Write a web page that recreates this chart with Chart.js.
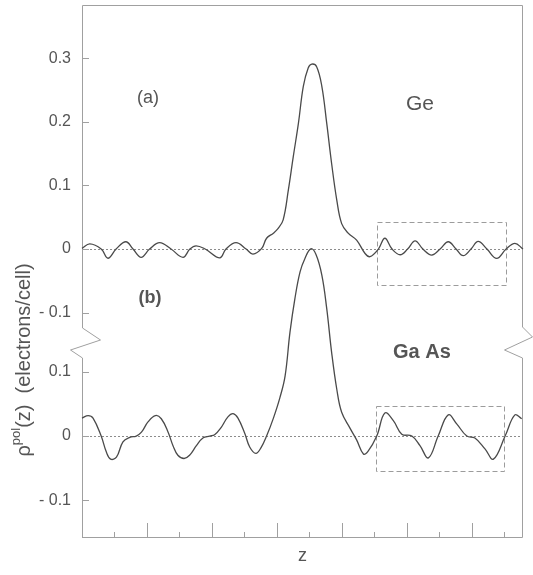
<!DOCTYPE html>
<html><head><meta charset="utf-8">
<script src="https://cdn.jsdelivr.net/npm/chart.js@4.4.0/dist/chart.umd.min.js"></script>
<style>html,body{margin:0;padding:0;background:#fff;} #wrap{width:533px;height:575px;}</style>
</head><body><div id="wrap"><canvas id="c" width="533" height="575"></canvas></div>
<script>
// ---- data (z in interlayer units, rho in electrons/cell) ----
const geZ = [0.00,0.24,0.59,0.80,1.05,1.35,1.57,1.82,2.08,2.39,2.74,3.11,3.32,3.51,3.79,4.24,4.43,4.74,5.05,5.26,5.53,5.68,5.89,6.03,6.19,6.35,6.50,6.66,6.81,6.96,7.07,7.22,7.38,7.53,7.68,7.84,7.99,8.19,8.45,8.71,8.86,9.12,9.32,9.54,9.79,10.02,10.25,10.49,10.76,11.02,11.27,11.51,11.73,11.97,12.19,12.46,12.76,13.05,13.32,13.57];
const geRho = [0.001,0.008,0,-0.0145,0,0.0115,0,-0.013,0,0.010,0,-0.013,0,0.005,0,-0.014,0,0.010,0,-0.008,0.001,0.017,0.025,0.032,0.046,0.093,0.145,0.198,0.256,0.285,0.291,0.287,0.256,0.198,0.135,0.077,0.040,0.025,0.014,-0.007,-0.012,0,0.017,0,-0.009,0,0.013,0,-0.0095,0,0.0115,0,-0.0105,0,0.012,0,-0.0147,0,0.009,0];
const gaasZ = [0.00,0.19,0.34,0.59,0.75,0.88,1.06,1.26,1.47,1.67,1.83,2.03,2.26,2.44,2.65,2.80,2.95,3.14,3.31,3.52,3.72,3.93,4.08,4.29,4.49,4.65,4.80,5.01,5.16,5.35,5.51,5.68,5.89,6.09,6.25,6.40,6.55,6.71,6.86,7.04,7.20,7.38,7.53,7.68,7.84,7.99,8.25,8.45,8.66,8.80,9.07,9.32,9.58,9.84,10.15,10.40,10.66,10.96,11.27,11.53,11.84,12.09,12.40,12.66,13.02,13.32,13.53];
const gaasRho = [0.028,0.032,0.028,0,-0.025,-0.036,-0.033,-0.009,-0.002,0,0.006,0.022,0.032,0.027,0.006,-0.015,-0.030,-0.035,-0.030,-0.015,-0.003,0,0.002,0.014,0.030,0.035,0.028,0.004,-0.017,-0.027,-0.018,0,0.028,0.060,0.094,0.162,0.214,0.256,0.277,0.292,0.283,0.251,0.199,0.131,0.073,0.037,0.012,-0.006,-0.028,-0.024,0,0.036,0.024,0.003,0,-0.015,-0.034,0,0.033,0.019,0,-0.003,-0.020,-0.036,0,0.033,0.027];
const topTicks = [0.3, 0.2, 0.1, 0, -0.1];
const bottomTicks = [0.1, 0, -0.1];
const topRange = [-0.151, 0.384];
const bottomRange = [-0.159, 0.142];
const zRange = [0, 13.57];
const zMajorTicks = [0, 2, 4, 6, 8, 10, 12];
const zMinorTicks = [1, 3, 5, 7, 9, 11, 13];
const boxTopZ = [9.08, 13.05], boxTopRho = [-0.057, 0.0425];
const boxBotZ = [9.04, 12.98], boxBotRho = [-0.055, 0.047];

const FONT = '"Liberation Sans", Arial, sans-serif';
const fmt = v => v === 0 ? '0' : (v < 0 ? '- ' + Math.abs(v).toFixed(1) : v.toFixed(1));
const toPts = (zs, rs) => zs.map((z, i) => ({x: z, y: rs[i]}));

function fixY(s, w) { s.width = w; s.paddingTop = 0; s.paddingBottom = 0; }

const decor = {
  id: 'decor',
  beforeDatasetsDraw(chart) {
    const {ctx, chartArea: a, scales} = chart;
    const X = scales.x, T = scales.yT, B = scales.yB;
    ctx.save();
    // zero lines
    ctx.lineWidth = 1; ctx.strokeStyle = '#8c8c8c'; ctx.setLineDash([2, 2]);
    [T, B].forEach(s => {
      const y = Math.round(s.getPixelForValue(0)) + 0.5;
      ctx.beginPath(); ctx.moveTo(a.left, y); ctx.lineTo(a.right, y); ctx.stroke();
    });
    // dashed boxes
    ctx.strokeStyle = '#9c9c9c'; ctx.setLineDash([5, 3]);
    [[boxTopZ, boxTopRho, T], [boxBotZ, boxBotRho, B]].forEach(([bz, br, s]) => {
      const x1 = X.getPixelForValue(bz[0]), x2 = X.getPixelForValue(bz[1]);
      const y1 = s.getPixelForValue(br[1]), y2 = s.getPixelForValue(br[0]);
      ctx.strokeRect(Math.round(x1) + 0.5, Math.round(y1) + 0.5, Math.round(x2 - x1), Math.round(y2 - y1));
    });
    // frame with break marks
    ctx.setLineDash([]); ctx.strokeStyle = '#a0a0a0';
    const yb = T.bottom, L = a.left + 0.5, R = a.right - 0.5;
    ctx.beginPath();
    ctx.moveTo(L, yb - 17); ctx.lineTo(L, a.top + 0.5); ctx.lineTo(R, a.top + 0.5); ctx.lineTo(R, yb - 18);
    ctx.lineTo(R + 10, yb - 8); ctx.lineTo(R - 18, yb + 5); ctx.lineTo(R, yb + 13);
    ctx.lineTo(R, a.bottom - 0.5); ctx.lineTo(L, a.bottom - 0.5); ctx.lineTo(L, yb + 13);
    ctx.lineTo(L - 12, yb + 5); ctx.lineTo(L + 18, yb - 5); ctx.lineTo(L, yb - 17);
    ctx.stroke();
    // inward y ticks
    [[T, topTicks], [B, bottomTicks]].forEach(([s, tk]) => tk.forEach(v => {
      const y = Math.round(s.getPixelForValue(v)) + 0.5;
      ctx.beginPath(); ctx.moveTo(a.left, y); ctx.lineTo(a.left + 7, y); ctx.stroke();
    }));
    // inward x ticks
    zMajorTicks.forEach(z => { const x = Math.round(X.getPixelForValue(z)) + 0.5;
      ctx.beginPath(); ctx.moveTo(x, a.bottom); ctx.lineTo(x, a.bottom - 15); ctx.stroke(); });
    zMinorTicks.forEach(z => { const x = Math.round(X.getPixelForValue(z)) + 0.5;
      ctx.beginPath(); ctx.moveTo(x, a.bottom); ctx.lineTo(x, a.bottom - 6); ctx.stroke(); });
    ctx.restore();
  },
  afterDatasetsDraw(chart) {
    const {ctx, scales} = chart;
    const X = scales.x, T = scales.yT, B = scales.yB;
    ctx.save();
    ctx.fillStyle = '#555'; ctx.textAlign = 'center'; ctx.textBaseline = 'middle';
    ctx.font = '18px ' + FONT;
    ctx.fillText('(a)', X.getPixelForValue(2.03), T.getPixelForValue(0.238));
    ctx.font = 'bold 18px ' + FONT;
    ctx.fillText('(b)', X.getPixelForValue(2.09), T.getPixelForValue(-0.077));
    ctx.font = '21px ' + FONT;
    ctx.fillText('Ge', X.getPixelForValue(10.4), T.getPixelForValue(0.228));
    ctx.font = 'bold 20px ' + FONT;
    ctx.fillText('Ga As', X.getPixelForValue(10.46), B.getPixelForValue(0.131));
    // y axis title with superscript
    const big = '20px ' + FONT, small = '13px ' + FONT;
    const parts = [['\u03c1', big, 0], ['pol', small, -8], ['(z)  (electrons/cell)', big, 0]];
    let total = 0;
    parts.forEach(p => { ctx.font = p[1]; p.push(ctx.measureText(p[0]).width); total += p[3]; });
    ctx.translate(24, 360); ctx.rotate(-Math.PI / 2);
    ctx.textAlign = 'left'; ctx.textBaseline = 'middle';
    let x = -total / 2;
    parts.forEach(p => { ctx.font = p[1]; ctx.fillText(p[0], x, p[2]); x += p[3]; });
    ctx.restore();
  }
};

new Chart(document.getElementById('c'), {
  type: 'line',
  data: {
    datasets: [
      {label: 'Ge', data: toPts(geZ, geRho), yAxisID: 'yT', borderColor: '#4a4a4a', borderWidth: 1.3, pointRadius: 0, tension: 0.4, fill: false, clip: false},
      {label: 'GaAs', data: toPts(gaasZ, gaasRho), yAxisID: 'yB', borderColor: '#4a4a4a', borderWidth: 1.3, pointRadius: 0, tension: 0.4, fill: false, clip: false}
    ]
  },
  options: {
    responsive: false, animation: false, devicePixelRatio: 1,
    layout: {padding: {top: 5, right: 10, left: 0, bottom: 0}},
    plugins: {legend: {display: false}, tooltip: {enabled: false}},
    scales: {
      x: {
        type: 'linear', min: zRange[0], max: zRange[1],
        grid: {display: false, drawTicks: false}, border: {display: false},
        ticks: {display: false},
        title: {display: true, text: 'z', color: '#555', font: {family: FONT, size: 18}, padding: {top: 0, bottom: 8}},
        afterFit(s) { s.height = 37; s.paddingLeft = 0; s.paddingRight = 0; }
      },
      yB: {
        type: 'linear', position: 'left', stack: 'panels', stackWeight: 193,
        min: bottomRange[0], max: bottomRange[1],
        afterBuildTicks(s) { s.ticks = bottomTicks.map(v => ({value: v})); },
        grid: {display: false, drawTicks: false}, border: {display: false},
        ticks: {callback: fmt, padding: 11, color: '#555', font: {family: FONT, size: 16}},
        afterFit(s) { fixY(s, 82); }
      },
      yT: {
        type: 'linear', position: 'left', stack: 'panels', stackWeight: 340,
        min: topRange[0], max: topRange[1],
        afterBuildTicks(s) { s.ticks = topTicks.map(v => ({value: v})); },
        grid: {display: false, drawTicks: false}, border: {display: false},
        ticks: {callback: fmt, padding: 11, color: '#555', font: {family: FONT, size: 16}},
        afterFit(s) { fixY(s, 82); }
      }
    }
  },
  plugins: [decor]
});
</script>
</body></html>
